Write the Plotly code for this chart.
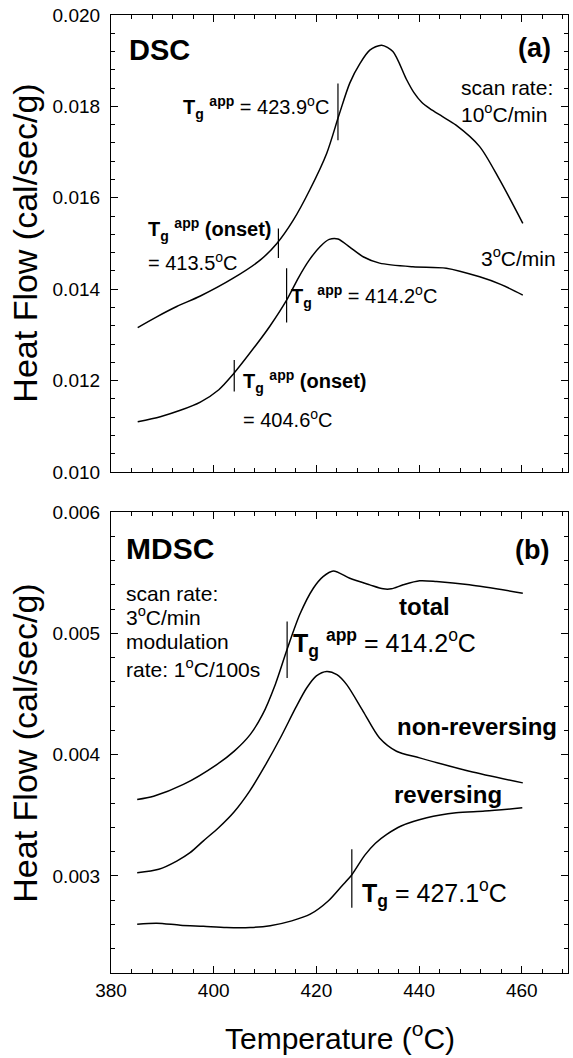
import plotly.graph_objects as go

# ---------------- data ----------------
# Panel (a) DSC, 10 C/min scan
dsc10_T = [385.2, 389.0, 392.8, 397.4, 403.8, 409.1, 412.3, 415.5, 418.7, 422.0, 424.4, 426.5,
           428.5, 430.4, 432.7, 434.9, 437.5, 439.0, 440.5, 442.1, 444.5, 447.2, 451.8, 455.7, 460.2]
dsc10_H = [0.01316, 0.01340, 0.01362, 0.01385, 0.01424, 0.01464, 0.01500, 0.01551, 0.01617,
           0.01697, 0.01781, 0.01851, 0.01894, 0.01923, 0.01934, 0.01920, 0.01860, 0.01830,
           0.01809, 0.01795, 0.01778, 0.01759, 0.01712, 0.01639, 0.01544]
# Panel (a) DSC, 3 C/min scan
dsc3_T = [385.2, 389.6, 393.5, 397.4, 401.0, 403.8, 408.4, 411.0, 414.2, 416.5, 418.5, 420.7,
          422.5, 424.2, 426.5, 429.1, 432.3, 438.8, 445.3, 451.8, 456.0, 460.2]
dsc3_H = [0.01110, 0.01121, 0.01135, 0.01153, 0.01180, 0.01214, 0.01280, 0.01320, 0.01376,
          0.01425, 0.01462, 0.01493, 0.01509, 0.01510, 0.01492, 0.01471, 0.01457, 0.01449,
          0.01446, 0.01427, 0.01410, 0.01387]
# Panel (b) MDSC total
tot_T = [385.1, 388.3, 394.1, 400.6, 404.0, 407.1, 409.5, 412.0, 414.3, 416.8, 419.4, 421.3,
         423.3, 426.5, 430.4, 433.0, 434.6, 436.9, 440.1, 443.4, 449.8, 460.2]
tot_H = [0.003631, 0.003658, 0.003755, 0.003919, 0.004030, 0.004166, 0.004330, 0.004580,
         0.004870, 0.005160, 0.005373, 0.005469, 0.005516, 0.005455, 0.005401, 0.005368,
         0.005368, 0.005401, 0.005434, 0.005428, 0.005401, 0.005332]
# Panel (b) MDSC non-reversing
nonrev_T = [385.1, 389.3, 392.8, 395.4, 398.0, 401.0, 404.0, 407.0, 410.0, 413.0, 416.0, 418.1,
            420.0, 422.0, 424.0, 425.9, 429.1, 432.3, 435.6, 440.1, 449.8, 460.2]
nonrev_H = [0.003027, 0.003055, 0.003123, 0.003192, 0.003290, 0.003400, 0.003530, 0.003700,
            0.003910, 0.004140, 0.004390, 0.004550, 0.004650, 0.004687, 0.004660, 0.004578,
            0.004358, 0.004138, 0.004029, 0.003974, 0.003864, 0.003768]
# Panel (b) MDSC reversing
rev_T = [385.1, 388.9, 393.5, 398.0, 402.5, 407.1, 411.0, 415.2, 418.8, 422.3, 425.0, 426.9,
         429.4, 431.5, 433.7, 436.5, 441.5, 447.2, 452.8, 460.1]
rev_H = [0.002602, 0.002611, 0.002594, 0.002585, 0.002575, 0.002575, 0.002590, 0.002630,
         0.002685, 0.002794, 0.002920, 0.003010, 0.003170, 0.003270, 0.003343, 0.003412,
         0.003480, 0.003521, 0.003535, 0.003562]

# Tg marker bars: temperature, lower and upper heat flow
marks_a_T = [424.2, 412.6, 414.2, 404.0]
marks_a_lo = [0.01726, 0.01468, 0.01327, 0.01176]
marks_a_hi = [0.01850, 0.01533, 0.01446, 0.01245]
marks_b_T = [414.3, 426.9]
marks_b_lo = [0.004632, 0.002739]
marks_b_hi = [0.005099, 0.003220]

x_ticks = [380, 400, 420, 440, 460]
ya_ticks = [0.010, 0.012, 0.014, 0.016, 0.018, 0.020]
yb_ticks = [0.003, 0.004, 0.005, 0.006]

FONT = "Liberation Sans, Arial, sans-serif"
fig = go.Figure()

line = dict(color="black", width=1.5, shape="spline", smoothing=0.8)
fig.add_trace(go.Scatter(x=dsc10_T, y=dsc10_H, mode="lines", line=line, xaxis="x", yaxis="y"))
fig.add_trace(go.Scatter(x=dsc3_T, y=dsc3_H, mode="lines", line=line, xaxis="x", yaxis="y"))
fig.add_trace(go.Scatter(x=tot_T, y=tot_H, mode="lines", line=line, xaxis="x2", yaxis="y2"))
fig.add_trace(go.Scatter(x=nonrev_T, y=nonrev_H, mode="lines", line=line, xaxis="x2", yaxis="y2"))
fig.add_trace(go.Scatter(x=rev_T, y=rev_H, mode="lines", line=line, xaxis="x2", yaxis="y2"))

for t, lo, hi in zip(marks_a_T, marks_a_lo, marks_a_hi):
    fig.add_trace(go.Scatter(x=[t, t], y=[lo, hi], mode="lines", line=dict(color="black", width=1.2), xaxis="x", yaxis="y"))
for t, lo, hi in zip(marks_b_T, marks_b_lo, marks_b_hi):
    fig.add_trace(go.Scatter(x=[t, t], y=[lo, hi], mode="lines", line=dict(color="black", width=1.2), xaxis="x2", yaxis="y2"))

def ann(x, y, text, size, xref="x", yref="y", xanchor="left", angle=0):
    fig.add_annotation(x=x, y=y, xref=xref, yref=yref, text=text, showarrow=False,
                       xanchor=xanchor, yanchor="middle", align="left", textangle=angle,
                       borderpad=0, font=dict(family=FONT, size=size, color="black"))

TGAPP = "<b>T<sub>g</sub> <sup>app</sup></b>"
# panel (a)
ann(383.4, 0.01923, "<b>DSC</b>", 29)
ann(465.8, 0.01928, "<b>(a)</b>", 27, xanchor="right")
ann(447.9, 0.01842, "scan rate:", 21)
ann(447.9, 0.01786, "10<sup>o</sup>C/min", 21)
ann(466.8, 0.01470, "3<sup>o</sup>C/min", 21, xanchor="right")
ann(393.8, 0.01797, TGAPP + " = 423.9<sup>o</sup>C", 20)
ann(387.1, 0.01530, TGAPP + " <b>(onset)</b>", 20)
ann(387.1, 0.01460, "= 413.5<sup>o</sup>C", 20)
ann(414.9, 0.01385, TGAPP + " = 414.2<sup>o</sup>C", 20)
ann(405.5, 0.01197, TGAPP + " <b>(onset)</b>", 20)
ann(405.5, 0.01118, "= 404.6<sup>o</sup>C", 20)
# panel (b)
ann(382.8, 0.005700, "<b>MDSC</b>", 30, "x2", "y2")
ann(465.4, 0.005691, "<b>(b)</b>", 27, "x2", "y2", xanchor="right")
ann(382.8, 0.005329, "scan rate:", 21, "x2", "y2")
ann(382.8, 0.005140, "3<sup>o</sup>C/min", 21, "x2", "y2")
ann(382.8, 0.004934, "modulation", 21, "x2", "y2")
ann(382.8, 0.004712, "rate: 1<sup>o</sup>C/100s", 21, "x2", "y2")
ann(435.8, 0.005222, "<b>total</b>", 24, "x2", "y2")
ann(415.2, 0.004920, TGAPP + " = 414.2<sup>o</sup>C", 25, "x2", "y2")
ann(467.0, 0.004235, "<b>non-reversing</b>", 24, "x2", "y2", xanchor="right")
ann(434.9, 0.003675, "<b>reversing</b>", 24, "x2", "y2")
ann(428.6, 0.002860, "<b>T<sub>g</sub></b> = 427.1<sup>o</sup>C", 25, "x2", "y2")

# axis titles (placed in paper coordinates)
ann(-0.189, 0.762, "Heat Flow (cal/sec/g)", 34, "paper", "paper", xanchor="center", angle=-90)
ann(-0.189, 0.240, "Heat Flow (cal/sec/g)", 34, "paper", "paper", xanchor="center", angle=-90)
ann(0.5, -0.0655, "Temperature (<sup>o</sup>C)", 30, "paper", "paper", xanchor="center")

common_x = dict(range=[380, 469], tickvals=x_ticks, ticks="inside", ticklen=7, tickwidth=1.2,
                tickcolor="black", showline=True, linecolor="black", linewidth=1.2, mirror="allticks",
                showgrid=False, zeroline=False, automargin=False,
                minor=dict(dtick=4, tick0=380, ticks="inside", ticklen=4, tickwidth=1, tickcolor="black", showgrid=False),
                tickfont=dict(family=FONT, size=19, color="black"))
common_y = dict(ticks="inside", ticklen=7, tickwidth=1.2, tickcolor="black", showline=True,
                linecolor="black", linewidth=1.2, mirror="allticks", showgrid=False, zeroline=False,
                automargin=False, tickformat=".3f", tickfont=dict(family=FONT, size=19, color="black"),
                ticklabelstandoff=6)

fig.update_layout(
    width=573, height=1058,
    margin=dict(l=111, r=5, t=15, b=85),
    paper_bgcolor="white", plot_bgcolor="white",
    showlegend=False,
    xaxis=dict(common_x, anchor="y", showticklabels=False, domain=[0, 1]),
    xaxis2=dict(common_x, anchor="y2", matches="x", domain=[0, 1]),
    yaxis=dict(common_y, domain=[0.523, 1], range=[0.010, 0.020], tickvals=ya_ticks,
               minor=dict(dtick=0.0004, tick0=0.010, ticks="inside", ticklen=4, tickwidth=1, tickcolor="black", showgrid=False)),
    yaxis2=dict(common_y, domain=[0, 0.481], range=[0.0022, 0.006], tickvals=yb_ticks,
                minor=dict(dtick=0.0002, tick0=0.0022, ticks="inside", ticklen=4, tickwidth=1, tickcolor="black", showgrid=False)),
)

fig.write_html("out.html", config={"displayModeBar": False},
               post_script="document.body.style.margin='0px';document.body.style.overflow='hidden';")
